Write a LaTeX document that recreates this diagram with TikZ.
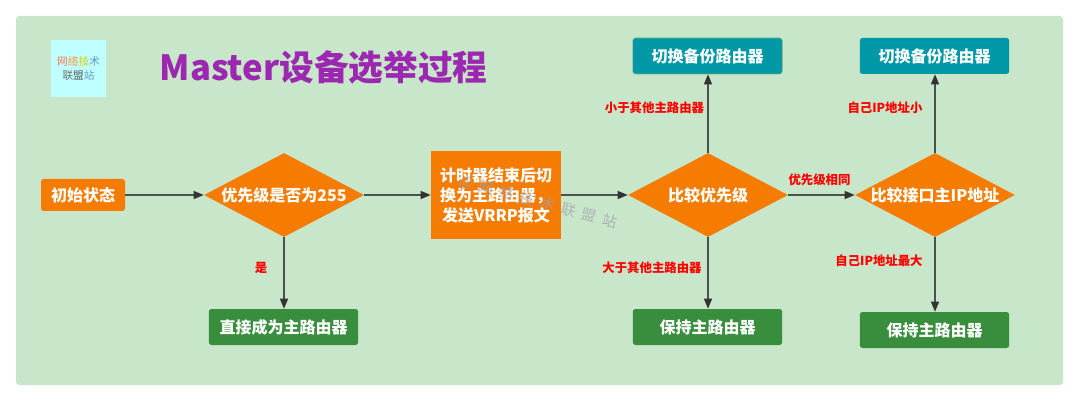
\documentclass[tikz,border=0pt]{standalone}
\usepackage{fontspec}
\setmainfont{Noto Sans CJK SC}
\newfontfamily\markfont[LetterSpace=45]{Noto Sans CJK SC}
\usetikzlibrary{shapes.geometric,arrows.meta}
\definecolor{panelgreen}{HTML}{C8E6C9}
\definecolor{stateorange}{HTML}{F57C00}
\definecolor{keepgreen}{HTML}{388E3C}
\definecolor{switchteal}{HTML}{0097A7}
\definecolor{titlepurple}{HTML}{9C27B0}
\definecolor{logocyan}{HTML}{BFFFFF}
\definecolor{linegray}{HTML}{4A524C}
\definecolor{markgray}{HTML}{A3A3B0}
\tikzset{
  panel/.style={fill=panelgreen, rounded corners=2.5pt},
  stepbox/.style={rounded corners=2pt, text=white, font=\fontsize{12}{15}\selectfont\bfseries,
    inner sep=0pt, minimum height=27pt, minimum width=112pt},
  startbox/.style={stepbox, fill=stateorange, minimum height=24pt, minimum width=63pt},
  timerbox/.style={stepbox, fill=stateorange, rounded corners=0pt, align=center,
    minimum width=97.5pt, minimum height=66pt},
  keepbox/.style={stepbox, fill=keepgreen},
  switchbox/.style={stepbox, fill=switchteal},
  decide/.style={diamond, fill=stateorange, text=white, font=\fontsize{12}{15}\selectfont\bfseries,
    aspect=1.905, inner sep=0pt, text height=9.5pt, text depth=0pt,
    minimum width=120pt, minimum height=63pt},
  cond/.style={text=red, inner sep=0pt, font=\fontsize{9.3}{11}\selectfont\bfseries},
  flow/.style={draw=linegray, line width=0.9pt, -{Triangle[length=7.5pt,width=6pt,color=black!80]}},
}
\begin{document}
\begin{tikzpicture}[x=0.75pt,y=-0.75pt]
  \useasboundingbox (0,0) rectangle (1080,402);
  \fill[white] (0,0) rectangle (1080,402);
  \fill[panel] (16,16) rectangle (1063,385);
  \node[fill=logocyan, inner sep=0pt, minimum width=41.25pt, minimum height=42.75pt, align=center,
    font=\fontsize{8}{10.5}\selectfont] (logo) at (78.5,68.5)
    {\textcolor{red!55!orange!70}{网}\textcolor{orange!80}{络}\textcolor{yellow!70!olive}{技}\textcolor{blue!40!teal!60}{术}\\
     \textcolor{black!55}{联}\textcolor{black!65}{盟}\textcolor{blue!35!teal!60}{站}};
  \node[text=titlepurple, inner sep=0pt, font=\fontsize{26}{31}\selectfont\bfseries] (title) at (323.5,68) {Master设备选举过程};

  \node[startbox] (init) at (83,195) {初始状态};
  \node[decide] (prio255) at (284,195) {优先级是否为255};
  \node[keepbox] (direct) at (283.5,327) {直接成为主路由器};
  \node[timerbox] (timer) at (496,195) {计时器结束后切\\换为主路由器，\\发送VRRP报文};
  \node[decide] (prio) at (708,195) {比较优先级};
  \node[switchbox, draw=keepgreen!70, line width=0.5pt] (backupa) at (707.5,56) {切换备份路由器};
  \node[keepbox] (keepa) at (707.5,327) {保持主路由器};
  \node[decide] (addr) at (935,195) {比较接口主IP地址};
  \node[switchbox] (backupb) at (934.5,56) {切换备份路由器};
  \node[keepbox] (keepb) at (934.5,330) {保持主路由器};

  \draw[flow] (init) -- (prio255);
  \draw[flow] (prio255) -- (timer);
  \draw[flow] (prio255) -- (prio255 |- direct.north);
  \draw[flow] (timer) -- (prio);
  \draw[flow] (prio) -- (addr);
  \draw[flow] (prio) -- (prio |- backupa.south);
  \draw[flow] (prio) -- (prio |- keepa.north);
  \draw[flow] (addr) -- (addr |- backupb.south);
  \draw[flow] (addr) -- (addr |- keepb.north);

  \node[cond] (yes) at (261,268) {是};
  \node[cond] (less) at (654.5,108) {小于其他主路由器};
  \node[cond] (more) at (652,268) {大于其他主路由器};
  \node[cond] (same) at (819.5,180) {优先级相同};
  \node[cond] (small) at (885,108) {自己IP地址小};
  \node[cond] (big) at (879,261) {自己IP地址最大};

  \node[rotate=-15, text=markgray, opacity=0.75, inner sep=0pt,
    font=\markfont\fontsize{11}{13}\selectfont] (mark) at (538,202) {@网络技术联盟站};
\end{tikzpicture}
\end{document}
